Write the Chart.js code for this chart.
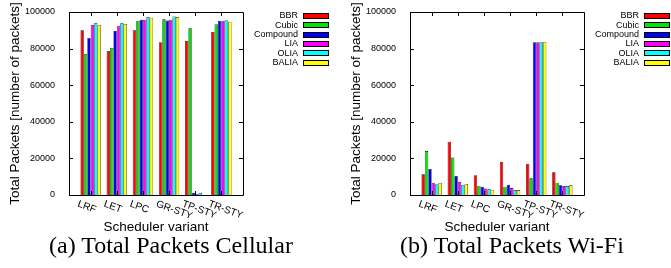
<!DOCTYPE html>
<html>
<head>
<meta charset="utf-8">
<script src="https://cdn.jsdelivr.net/npm/chart.js@4.4.0/dist/chart.umd.min.js"></script>
<style>
    body { margin: 0; background: #fff; width: 671px; height: 268px; overflow: hidden; position: relative; }
    .box { position: absolute; top: 0; width: 330px; height: 239px; }
    .cap { position: absolute; top: 231px; width: 300px; height: 28px; line-height: 28px; font-family: 'Liberation Serif', serif; font-size: 24px; text-align: center; color: #000; white-space: nowrap; }
</style>
</head>
<body>
<div class="box" style="left:0"><canvas id="graphCanvas1" width="330" height="239"></canvas></div>
<div class="box" style="left:341px"><canvas id="graphCanvas2" width="330" height="239"></canvas></div>
<div class="cap" style="left:21px">(a) Total Packets Cellular</div>
<div class="cap" style="left:362px">(b) Total Packets Wi-Fi</div>
<script>
var variants = ['LRF', 'LET', 'LPC', 'GR-STY', 'TP-STY', 'TR-STY'];
var algos = ['BBR', 'Cubic', 'Compound', 'LIA', 'OLIA', 'BALIA'];
var colors = ['#ff0000', '#00e600', '#0000ff', '#ff00ff', '#00ffff', '#ffff00'];
var yTicks = [0, 20000, 40000, 60000, 80000, 100000];

// cellular
var bbrCell = [90000, 78700, 90000, 83500, 84200, 89100];
var cubicCell = [77100, 80400, 94900, 96000, 91100, 93300];
var compoundCell = [85800, 89600, 95800, 95300, 1200, 95100];
var liaCell = [92900, 92500, 95800, 95800, 700, 95100];
var oliaCell = [93800, 93800, 97100, 97500, 1200, 95500];
var baliaCell = [92900, 93500, 96900, 97100, 0, 94700];

// wifi
var bbrWifi = [11300, 29100, 10800, 18100, 17100, 12400];
var cubicWifi = [24000, 20500, 5100, 4500, 9100, 6700];
var compoundWifi = [14200, 10400, 4500, 5600, 83500, 5300];
var liaWifi = [6400, 7100, 3600, 3800, 83500, 4900];
var oliaWifi = [5900, 5500, 3100, 2700, 83500, 4900];
var baliaWifi = [6600, 6000, 2900, 2700, 83500, 5300];

var fam = "'Liberation Sans', Arial, sans-serif";
Chart.defaults.font.family = fam;
Chart.defaults.color = '#000';

var framePlugin = {
    id: 'frame',
    afterDatasetsDraw: function (chart) {
        var ctx = chart.ctx;
        var a = chart.chartArea;
        var xs = chart.scales.x, ys = chart.scales.y;
        ctx.save();
        ctx.strokeStyle = '#000';
        ctx.lineWidth = 1;
        ctx.beginPath();
        ctx.rect(Math.round(a.left) + 0.5, Math.round(a.top) + 0.5, Math.round(a.right - a.left), Math.round(a.bottom - a.top));
        for (var i = 0; i < yTicks.length; i++) {
            var py = Math.round(ys.getPixelForValue(yTicks[i])) + 0.5;
            ctx.moveTo(a.left, py); ctx.lineTo(a.left + 4, py);
            ctx.moveTo(a.right, py); ctx.lineTo(a.right - 4, py);
        }
        for (var j = 0; j < variants.length; j++) {
            var px = Math.round(xs.getPixelForValue(j)) + 0.5;
            ctx.moveTo(px, a.bottom); ctx.lineTo(px, a.bottom - 4);
            ctx.moveTo(px, a.top); ctx.lineTo(px, a.top + 4);
        }
        ctx.stroke();

        // slanted category labels
        ctx.fillStyle = '#000';
        ctx.font = '10px ' + fam;
        ctx.textAlign = 'left';
        ctx.textBaseline = 'top';
        for (var k = 0; k < variants.length; k++) {
            var tx = xs.getPixelForValue(k);
            ctx.save();
            ctx.translate(tx - 11, a.bottom + 4);
            ctx.rotate(20 * Math.PI / 180);
            ctx.fillText(variants[k], 0, 0);
            ctx.restore();
        }
        ctx.restore();
    },
    afterDraw: function (chart) {
        var ctx = chart.ctx;
        ctx.save();
        ctx.font = '9px ' + fam;
        ctx.textAlign = 'right';
        ctx.textBaseline = 'middle';
        chart.data.datasets.forEach(function (ds, n) {
            var cy = 16 + n * 9.33;
            ctx.fillStyle = '#000';
            ctx.fillText(ds.label, 298, cy);
            ctx.fillStyle = ds.backgroundColor;
            ctx.fillRect(303.5, Math.round(cy - 3) + 0.5, 25, 5);
            ctx.strokeStyle = '#000';
            ctx.lineWidth = 1;
            ctx.strokeRect(303.5, Math.round(cy - 3) + 0.5, 25, 5);
        });
        ctx.restore();
    }
};

function showGraph(canvasId, series) {
    var datasets = [];
    for (var k = 0; k < algos.length; k++) {
        datasets.push({
            label: algos[k],
            backgroundColor: colors[k],
            borderColor: '#000',
            borderWidth: 0.6,
            borderSkipped: 'start',
            categoryPercentage: 0.78,
            barPercentage: 1,
            data: series[k].map(function (v, i) { return { x: i, y: v }; })
        });
    }

    new Chart(document.getElementById(canvasId), {
        type: 'bar',
        data: { datasets: datasets },
        plugins: [framePlugin],
        options: {
            responsive: false,
            animation: false,
            layout: { padding: { top: 12, right: 87, left: 0, bottom: 0 } },
            plugins: { legend: { display: false }, tooltip: { enabled: false } },
            scales: {
                x: {
                    type: 'linear',
                    offset: false,
                    min: -0.83,
                    max: 5.83,
                    grid: { display: false },
                    border: { display: false },
                    ticks: { display: false },
                    title: { display: true, text: 'Scheduler variant', font: { size: 13.5 }, padding: { top: 0, bottom: 4 } },
                    afterFit: function (s) { s.height = 44; }
                },
                y: {
                    min: 0,
                    max: 100000,
                    grid: { display: false },
                    border: { display: false },
                    ticks: {
                        stepSize: 20000,
                        font: { size: 9 },
                        padding: 6,
                        callback: function (v) { return String(v); }
                    },
                    title: { display: true, text: 'Total Packets [number of packets]', font: { size: 13.5 }, padding: { top: 7, bottom: 0 } },
                    afterFit: function (s) { s.width = 69; }
                }
            }
        }
    });
}

showGraph('graphCanvas1', [bbrCell, cubicCell, compoundCell, liaCell, oliaCell, baliaCell]);
showGraph('graphCanvas2', [bbrWifi, cubicWifi, compoundWifi, liaWifi, oliaWifi, baliaWifi]);
</script>
</body>
</html>
